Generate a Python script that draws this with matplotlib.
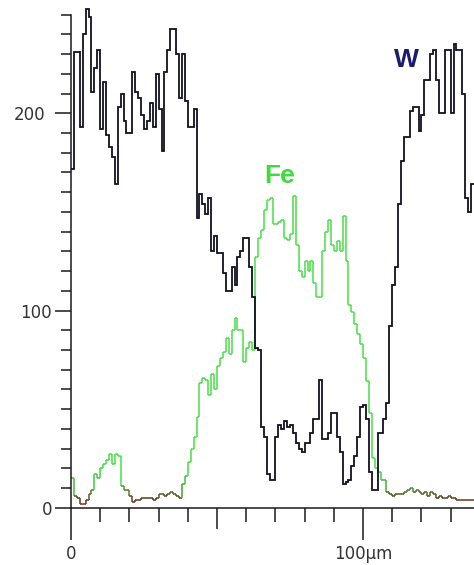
import numpy as np
import matplotlib.pyplot as plt
import matplotlib.transforms as mtransforms
from matplotlib.collections import LineCollection
from matplotlib.colors import LinearSegmentedColormap, Normalize

# counts per 1 µm step along the line scan (x = 0 .. 137 µm)
w_counts = [172, 231, 231, 193, 240, 253, 249, 211, 223, 232,
            192, 216, 189, 183, 178, 164, 203, 210, 196, 190,
            190, 221, 211, 208, 199, 192, 196, 205, 193, 220,
            202, 181, 221, 232, 243, 243, 230, 208, 230, 206,
            193, 193, 202, 147, 159, 154, 149, 157, 130, 138,
            129, 129, 119, 110, 110, 122, 113, 127, 130, 137,
            137, 122, 107, 81, 80, 41, 36, 17, 14, 14,
            36, 42, 40, 44, 41, 42, 38, 33, 30, 28,
            33, 33, 38, 45, 45, 65, 35, 35, 38, 48,
            48, 36, 28, 12, 13, 14, 21, 26, 36, 51,
            52, 45, 18, 9, 9, 38, 38, 45, 53, 92,
            113, 122, 154, 176, 188, 188, 201, 203, 203, 191,
            199, 217, 217, 230, 232, 217, 200, 200, 232, 232,
            200, 235, 232, 232, 210, 157, 150, 164]

fe_counts = [15, 6, 5, 2, 2, 4, 7, 9, 17, 15,
             20, 22, 24, 27, 22, 27, 26, 11, 9, 9,
             6, 3, 4, 4, 5, 5, 5, 5, 4, 5,
             7, 7, 6, 7, 8, 7, 6, 5, 12, 16,
             23, 30, 36, 46, 63, 66, 65, 57, 68, 60,
             72, 76, 79, 86, 78, 90, 96, 90, 90, 74,
             81, 84, 80, 127, 137, 141, 151, 156, 157, 144,
             144, 145, 146, 137, 136, 139, 158, 133, 120, 117,
             125, 120, 125, 114, 107, 107, 130, 140, 146, 133,
             130, 135, 130, 148, 125, 103, 99, 93, 88, 83,
             76, 64, 48, 25, 20, 18, 14, 14, 8, 7,
             6, 7, 7, 7, 8, 9, 10, 8, 9, 8,
             7, 8, 6, 8, 7, 5, 6, 5, 5, 6,
             5, 5, 4, 4, 4, 4, 4, 4]

x_major = [0, 50, 100]
x_labels = ['0', '', '100µm']
y_major = [0, 100, 200]

fig = plt.figure(figsize=(4.74, 5.65), dpi=100)
ax = fig.add_axes([71 / 474, 57.3 / 565, 403 / 474, 493 / 565])

# W trace
edges = np.arange(len(w_counts) + 1)
ax.stairs(w_counts, edges, baseline=None, color='#101022', lw=1.3,
          clip_on=False, zorder=3)

# Fe trace, coloured by intensity (dark red near zero -> green)
fe = np.array(fe_counts, dtype=float)
segs, vals = [], []
for i, v in enumerate(fe):
    segs.append([(i, v), (i + 1, v)])
    vals.append(v)
    if i + 1 < len(fe):
        segs.append([(i + 1, v), (i + 1, fe[i + 1])])
        vals.append(max(v, fe[i + 1]))
fe_cmap = LinearSegmentedColormap.from_list(
    'fe', [(0, '#a01c18'), (0.2, '#5e3a1c'), (0.4, '#4c8c2c'),
           (0.7, '#3cd43c'), (1, '#46e046')])
lc = LineCollection(segs, cmap=fe_cmap, norm=Normalize(0, 25), lw=1.1, zorder=2)
lc.set_array(np.array(vals))
ax.add_collection(lc)

ax.set_xlim(0, 138)
ax.set_ylim(0, 250)

ax.text(114.7, 227, 'W', color='#1c1c6e', fontsize=19, fontweight='bold',
        family='Liberation Sans', ha='center', va='center')
ax.text(71.6, 168, 'Fe', color='#3ddb3d', fontsize=19, fontweight='bold',
        family='Liberation Sans', ha='center', va='center')

# axes and ticks
for s in ['top', 'right']:
    ax.spines[s].set_visible(False)
for s in ['left', 'bottom']:
    ax.spines[s].set_linewidth(1.1)
    ax.spines[s].set_color('#1a1a1a')

ax.set_xticks(x_major)
ax.set_xticklabels(x_labels)
ax.set_xticks([t for t in range(10, 140, 10) if t not in x_major], minor=True)
ax.set_yticks(y_major)
ax.set_yticklabels([str(t) for t in y_major])
ax.set_yticks([t for t in range(10, 260, 10) if t not in y_major], minor=True)

ax.tick_params(axis='x', which='major', length=23, width=1.1, pad=4,
               labelsize=12, labelcolor='#333333', color='#1a1a1a')
ax.tick_params(axis='x', which='minor', length=10, width=1.1, color='#1a1a1a')
ax.tick_params(axis='y', which='major', length=11.5, width=1.1, pad=2,
               labelsize=12, labelcolor='#333333', color='#1a1a1a')
ax.tick_params(axis='y', which='minor', length=7, width=1.1, color='#1a1a1a')

# the 50 µm tick is a medium one
ax.xaxis.get_major_ticks()[1].tick1line.set_markersize(15)

# "200" sits a little further left in the original
lab = ax.yaxis.get_major_ticks()[2].label1
lab.set_transform(lab.get_transform() +
                  mtransforms.ScaledTranslation(-7 / 100, 0, fig.dpi_scale_trans))

fig.savefig('out.png', dpi=100)
